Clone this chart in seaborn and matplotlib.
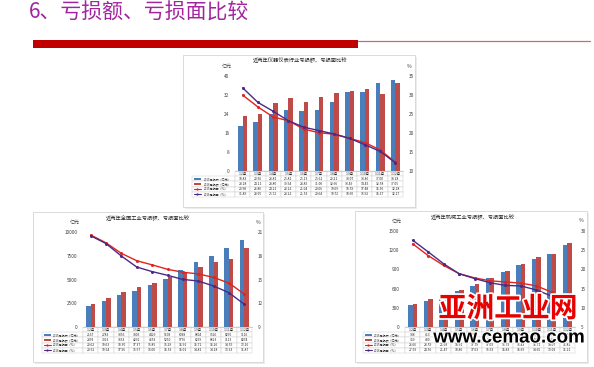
import numpy as np
import pandas as pd
import matplotlib
matplotlib.use("Agg")
import matplotlib.pyplot as plt
import seaborn as sns
from matplotlib.patches import Rectangle
from matplotlib.lines import Line2D
import matplotlib.patheffects as pe

sns.set_theme(style="white")
plt.rcParams['font.family'] = ['Noto Sans CJK SC', 'DejaVu Sans']

# ---------------- data ----------------
months = ["1-2月", "1-3月", "1-4月", "1-5月", "1-6月", "1-7月", "1-8月",
          "1-9月", "1-10月", "1-11月", "1-12月"]
series_labels = ["2015亏损额（亿元）", "2016亏损额（亿元）", "2015亏损面（%）", "2016亏损面（%）"]

slide_title = "6、亏损额、亏损面比较"

# instrument industry
inst_title = "近两年仪器仪表行业亏损额、亏损面比较"
inst_loss_2015 = [18.83, 20.56, 23.81, 25.81, 25.13, 25.61, 29.21, 33.07, 33.46, 37.00, 38.28]
inst_loss_2016 = [23.28, 24.11, 28.80, 30.54, 28.85, 31.00, 32.66, 33.49, 34.45, 32.58, 37.05]
inst_rate_2015 = [29.98, 26.86, 24.21, 23.22, 21.04, 20.06, 19.69, 18.59, 17.48, 15.56, 12.28]
inst_rate_2016 = [31.89, 28.05, 25.72, 23.22, 21.53, 20.64, 19.72, 18.60, 16.92, 15.17, 12.17]
inst_yticks = [0, 8, 16, 24, 32, 40]
inst_y2ticks = [10, 15, 20, 25, 30, 35]

# national industry
nat_title = "近两年全国工业亏损额、亏损面比较"
nat_loss_2015 = [2167, 2783, 3356, 3805, 4429, 5103, 6038, 6804, 7526, 8276, 9116]
nat_loss_2016 = [2393, 3023, 3633, 4232, 4653, 5250, 5776, 6269, 6823, 7113, 8274]
nat_rate_2015 = [20.62, 19.63, 18.30, 17.37, 16.85, 16.29, 15.91, 15.71, 15.26, 14.55, 13.16]
nat_rate_2016 = [20.52, 19.54, 17.96, 16.57, 16.00, 15.53, 15.01, 14.81, 14.18, 13.33, 11.87]
nat_yticks = [0, 2500, 5000, 7500, 10000]
nat_y2ticks = [9, 12, 15, 18, 21]

# machinery industry
mach_title = "近两年机械工业亏损额、亏损面比较"
mach_loss_2015 = [338, 413, 486, 570, 638, 758, 862, 967, 1061, 1134, 1281]
mach_loss_2016 = [359, 430, 512, 585, 674, 768, 873, 983, 1087, 1138, 1317]
mach_rate_2015 = [26.66, 23.59, 21.03, 18.91, 17.79, 17.03, 16.73, 16.43, 15.71, 14.07, 11.82]
mach_rate_2016 = [27.59, 24.56, 21.47, 18.86, 17.63, 16.53, 15.83, 15.69, 14.65, 13.03, 11.21]
mach_yticks = [0, 300, 600, 900, 1200, 1500]
mach_y2ticks = [5, 10, 15, 20, 25, 30]

watermark_cn = "亚洲工业网"
watermark_url = "www.cemao.com"

# ---------------- style ----------------
W, H = 594, 367
BLUE = "#4a7ebb"
RED = "#be4b48"
LRED = "#e0251f"
PURPLE = "#4b2a86"
TXT = "#404040"
GRID = "#c8c8c8"

fig = plt.figure(figsize=(W / 100, H / 100), dpi=100)
fig.patch.set_facecolor("white")


def fx(x):
    return x / W


def fy(y):
    return 1 - y / H


def rect(l, t, r, b):
    return [l / W, 1 - b / H, (r - l) / W, (b - t) / H]


# slide title and red rule
fig.text(fx(29), fy(13), slide_title, color="#a1259f", fontsize=15,
         va="center", ha="left")
fig.add_artist(Rectangle((fx(33), fy(48)), fx(358) - fx(33), fy(40) - fy(48),
                         transform=fig.transFigure, color="#c00000", lw=0, zorder=2))
fig.add_artist(Line2D([fx(358), fx(590)], [fy(40.8), fy(40.8)],
                      transform=fig.transFigure, color="#c07070", lw=0.9, zorder=2))


def panel(frame, axpx, tab_left, tab_bottom, title, title_xy,
          b15, b16, r15, r16, yticks, y2ticks, fmt):
    l, t, r, b = frame
    fig.add_artist(Rectangle((fx(l + 1.5), fy(b + 1.5)), (r - l) / W, (b - t) / H,
                             transform=fig.transFigure, facecolor="#ececec",
                             edgecolor="none", zorder=-6))
    fig.add_artist(Rectangle((fx(l), fy(b)), (r - l) / W, (b - t) / H,
                             transform=fig.transFigure, facecolor="white",
                             edgecolor="#d4d4d4", lw=0.6, zorder=-5))
    fig.text(fx(title_xy[0]), fy(title_xy[1]), title, fontsize=3.8,
             color="#262626", ha="center", va="center")

    L, T, R, B = axpx
    ax = fig.add_axes(rect(L, T, R, B))
    ax.set_facecolor("none")
    n = len(months)
    df = pd.DataFrame({
        "月份": months * 2,
        "亏损额": list(b15) + list(b16),
        "系列": [series_labels[0]] * n + [series_labels[1]] * n,
    })
    sns.barplot(data=df, x="月份", y="亏损额", hue="系列",
                palette=[BLUE, RED], saturation=1, width=0.58,
                legend=False, ax=ax, linewidth=0)
    ax.set_xlim(-0.5, n - 0.5)
    ax.set_ylim(yticks[0], yticks[-1])
    ax.set_yticks(yticks)
    ax.set_yticklabels([str(v) for v in yticks])
    ax.set_xticklabels([])
    ax.set_xlabel("")
    ax.set_ylabel("")
    ax.tick_params(length=0, labelsize=3.4, colors=TXT, pad=4)
    for s in ["left", "right", "top"]:
        ax.spines[s].set_visible(False)
    ax.spines["bottom"].set_color("#bfbfbf")
    ax.spines["bottom"].set_linewidth(0.5)

    ax2 = ax.twinx()
    ax2.set_facecolor("none")
    xs = np.arange(n)
    sns.lineplot(x=xs, y=r15, color=LRED, marker="o", markersize=2.2,
                 markeredgewidth=0, linewidth=1.0, ax=ax2)
    sns.lineplot(x=xs, y=r16, color=PURPLE, marker="o", markersize=2.2,
                 markeredgewidth=0, linewidth=1.0, ax=ax2)
    ax2.set_xlim(-0.5, n - 0.5)
    ax2.set_ylim(y2ticks[0], y2ticks[-1])
    ax2.set_yticks(y2ticks)
    ax2.set_yticklabels([str(v) for v in y2ticks])
    ax2.set_ylabel("")
    ax2.tick_params(length=0, labelsize=3.4, colors=TXT, pad=4)
    for s in ax2.spines.values():
        s.set_visible(False)

    fig.text(fx(L - 8), fy(T - 10), "亿元", fontsize=3.6, color=TXT,
             ha="center", va="center")
    fig.text(fx(R + 6), fy(T - 10), "%", fontsize=3.6, color=TXT,
             ha="center", va="center")

    # data table
    rows = [[series_labels[0]] + [fmt.format(v) for v in b15],
            [series_labels[1]] + [fmt.format(v) for v in b16],
            [series_labels[2]] + ["{:.2f}".format(v) for v in r15],
            [series_labels[3]] + ["{:.2f}".format(v) for v in r16]]
    aw = R - L
    ah = B - T
    lab_w = L - tab_left
    col_w = aw / n
    bbox = [(tab_left - L) / aw, -(tab_bottom - B) / ah,
            (R - tab_left) / aw, (tab_bottom - B) / ah]
    tab = ax.table(cellText=rows, colLabels=[""] + months,
                   colWidths=[lab_w] + [col_w] * n, cellLoc="center",
                   bbox=bbox)
    tab.auto_set_font_size(False)
    tab.set_fontsize(2.4)
    for (ri, ci), cell in tab.get_celld().items():
        cell.set_edgecolor(GRID)
        cell.set_linewidth(0.3)
        cell.get_text().set_color("#262626")
        if ci == 0:
            cell.get_text().set_ha("left")
            cell.PAD = 0.27
            cell.get_text().set_fontsize(2.2)
        if ri == 0 and ci == 0:
            cell.visible_edges = ""
    # legend keys
    rh = (tab_bottom - B) / 5
    for k in range(4):
        yc = B + rh * (k + 1.5)
        x0 = tab_left + 1.5
        x1 = tab_left + 9
        if k < 2:
            fig.add_artist(Rectangle((fx(x0), fy(yc + 1)), (x1 - x0) / W, 2 / H,
                                     transform=fig.transFigure,
                                     color=[BLUE, RED][k], lw=0, zorder=5))
        else:
            c = [LRED, PURPLE][k - 2]
            fig.add_artist(Line2D([fx(x0), fx(x1)], [fy(yc), fy(yc)],
                                  transform=fig.transFigure, color=c, lw=0.8,
                                  zorder=5))
            fig.add_artist(Line2D([fx((x0 + x1) / 2)], [fy(yc)],
                                  transform=fig.transFigure, color=c,
                                  marker="o", ms=1.6, mew=0, zorder=6))
    return ax


panel((183, 55, 415, 207), (235, 76, 403, 171), 192, 197, inst_title, (300, 60.5),
      inst_loss_2015, inst_loss_2016, inst_rate_2015, inst_rate_2016,
      inst_yticks, inst_y2ticks, "{:.2f}")
panel((33, 212, 263, 362), (83, 232, 252, 327), 42, 353, nat_title, (148, 218),
      nat_loss_2015, nat_loss_2016, nat_rate_2015, nat_rate_2016,
      nat_yticks, nat_y2ticks, "{:d}")
panel((355, 211, 587, 362), (405, 231, 575, 327), 363, 353, mach_title, (473, 217),
      mach_loss_2015, mach_loss_2016, mach_rate_2015, mach_rate_2016,
      mach_yticks, mach_y2ticks, "{:d}")

# watermark
fig.text(fx(508), fy(309), watermark_cn, fontsize=20, fontweight="bold",
         color="#e60000", ha="center", va="center", zorder=10,
         path_effects=[pe.withStroke(linewidth=2.5, foreground="white")])
fig.text(fx(509), fy(338), watermark_url, fontsize=13.5, fontweight="bold",
         color="black", ha="center", va="center", zorder=10,
         family=["Liberation Sans", "DejaVu Sans"],
         path_effects=[pe.withStroke(linewidth=1.5, foreground="white")])

fig.savefig("out.png", dpi=100, facecolor="white")
